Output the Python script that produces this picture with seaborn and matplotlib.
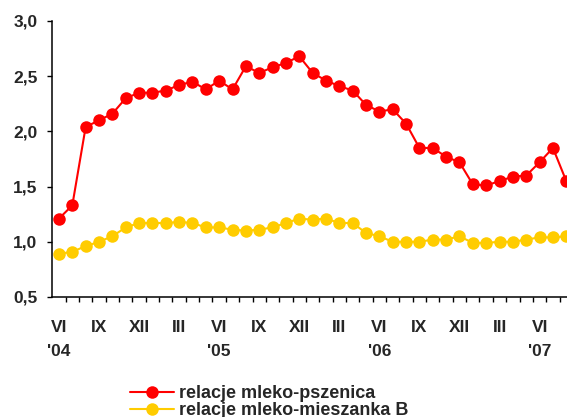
import pandas as pd
import matplotlib.pyplot as plt
from matplotlib.ticker import FixedLocator, FuncFormatter
import seaborn as sns

# monthly values, VI 2004 .. VIII 2007
milk_wheat = [1.21, 1.33, 2.04, 2.10, 2.16, 2.30, 2.35, 2.35, 2.37, 2.42,
              2.45, 2.38, 2.46, 2.38, 2.59, 2.53, 2.58, 2.62, 2.68, 2.53,
              2.46, 2.41, 2.37, 2.24, 2.18, 2.20, 2.07, 1.85, 1.85, 1.77,
              1.72, 1.52, 1.51, 1.55, 1.59, 1.60, 1.72, 1.85, 1.55]
milk_mix_b = [0.89, 0.91, 0.96, 1.00, 1.05, 1.13, 1.17, 1.17, 1.17, 1.18,
              1.17, 1.13, 1.13, 1.11, 1.10, 1.11, 1.13, 1.17, 1.21, 1.20,
              1.21, 1.17, 1.17, 1.08, 1.05, 1.00, 1.00, 1.00, 1.02, 1.02,
              1.05, 0.99, 0.99, 1.00, 1.00, 1.02, 1.04, 1.04, 1.05]
tick_labels = ["VI\n'04", "IX", "XII", "III", "VI\n'05", "IX", "XII", "III",
               "VI\n'06", "IX", "XII", "III", "VI\n'07"]
series_names = ["relacje mleko-pszenica", "relacje mleko-mieszanka B"]


def comma_formatter(x, pos):
    return f'{x:.1f}'.replace('.', ',')


def main():
    sns.set_style('white')
    plt.rcParams['font.family'] = ['Liberation Sans', 'DejaVu Sans']
    plt.rcParams['font.weight'] = 'bold'

    df = pd.DataFrame({'month': range(len(milk_wheat)),
                       'wheat': milk_wheat,
                       'mix': milk_mix_b})

    fig = plt.figure(figsize=(5.67, 4.17), dpi=100)
    ax = fig.add_axes([0.0922, 0.2878, 0.9183, 0.6619])

    for col, color, name in [('wheat', '#FF0000', series_names[0]),
                             ('mix', '#FFCC00', series_names[1])]:
        sns.lineplot(data=df, x='month', y=col, ax=ax, color=color,
                     marker='o', markersize=9, markeredgewidth=0,
                     linewidth=1.5, label=name)
    if ax.get_legend():
        ax.get_legend().remove()

    ax.set_xlim(-0.5, len(milk_wheat) - 0.5)
    ax.set_ylim(0.5, 3.0)
    ax.set_xlabel('')
    ax.set_ylabel('')

    # labels every three months, tick marks between categories
    ax.xaxis.set_major_locator(FixedLocator(range(0, len(milk_wheat), 3)))
    ax.set_xticklabels(tick_labels)
    ax.xaxis.set_minor_locator(
        FixedLocator([i + 0.5 for i in range(len(milk_wheat))]))
    ax.set_yticks([0.5, 1.0, 1.5, 2.0, 2.5, 3.0])
    ax.yaxis.set_major_formatter(FuncFormatter(comma_formatter))

    ax.tick_params(axis='x', which='major', length=0, pad=16.5,
                   labelsize=12.5)
    ax.tick_params(axis='x', which='minor', length=3.6, width=1,
                   direction='out', bottom=True, color='black')
    ax.tick_params(axis='y', which='major', length=3.6, width=1,
                   direction='out', left=True, pad=7, labelsize=12.5,
                   color='black')
    for label in ax.get_xticklabels() + ax.get_yticklabels():
        label.set_fontweight('bold')
    for label in ax.get_xticklabels():
        label.set_linespacing(1.75)

    sns.despine(ax=ax)
    for side in ['left', 'bottom']:
        ax.spines[side].set_color('black')
        ax.spines[side].set_linewidth(1.1)

    handles, labels = ax.get_legend_handles_labels()
    fig.legend(handles, labels, loc='center', bbox_to_anchor=(0.475, 0.036),
               frameon=False, ncol=1, handlelength=2.4, handletextpad=0.3,
               labelspacing=0.0, prop={'size': 13, 'weight': 'bold'})

    fig.savefig('out.png', dpi=100)


if __name__ == "__main__":
    main()
